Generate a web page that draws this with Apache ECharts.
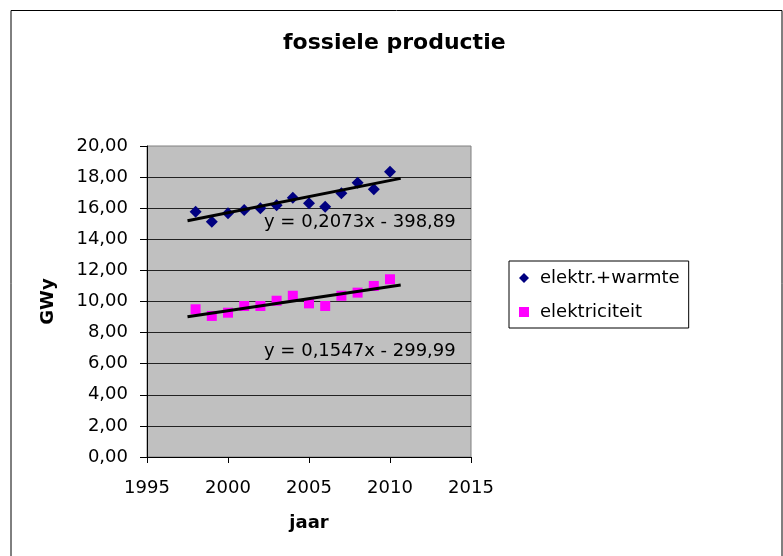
<!DOCTYPE html>
<html><head><meta charset="utf-8">
<script src="https://cdn.jsdelivr.net/npm/echarts@6/dist/echarts.min.js"></script>
<style>html,body{margin:0;padding:0;background:#fff}#c{width:783px;height:556px}</style>
</head><body><div id="c"></div>
<script>
// ---- data ----
const years = [1998, 1999, 2000, 2001, 2002, 2003, 2004, 2005, 2006, 2007, 2008, 2009, 2010];
const elektrWarmte = [15.77, 15.13, 15.67, 15.88, 15.99, 16.19, 16.68, 16.32, 16.10, 16.96, 17.64, 17.22, 18.35];
const elektriciteit = [9.50, 9.07, 9.28, 9.71, 9.71, 10.05, 10.37, 9.88, 9.71, 10.37, 10.57, 11.00, 11.43];
const seriesNames = ['elektr.+warmte', 'elektriciteit'];
// trendline coefficients (y = a*x + b) as printed in the chart
const trendSlope = [0.2073, 0.1547];
const trendIntercept = [-398.89, -299.99];
const trendRange = [1997.5, 2010.66];
const trendLabels = ['y = 0,2073x - 398,89', 'y = 0,1547x - 299,99'];
const xTicks = [1995, 2000, 2005, 2010, 2015];
const yTicks = [0, 2, 4, 6, 8, 10, 12, 14, 16, 18, 20];

const FONT = 'DejaVu Sans';
function trend(i) {
  return trendRange.map(x => [x, trendSlope[i] * x + trendIntercept[i]]);
}
const chart = echarts.init(document.getElementById('c'), null, {renderer: 'canvas'});
chart.setOption({
  animation: false,
  backgroundColor: '#fff',
  textStyle: {fontFamily: FONT, color: '#000'},
  title: {
    text: 'fossiele productie', left: 283, top: 32, padding: 0,
    textStyle: {fontFamily: FONT, fontSize: 22, fontWeight: 'bold', color: '#000'}
  },
  grid: {
    left: 147, top: 146, right: 312, bottom: 99, show: true,
    backgroundColor: '#C0C0C0', borderColor: '#808080', borderWidth: 1
  },
  xAxis: {
    type: 'value', min: xTicks[0], max: xTicks[xTicks.length - 1], interval: 5,
    name: 'jaar', nameLocation: 'middle', nameGap: 57,
    nameTextStyle: {fontFamily: FONT, fontSize: 18, fontWeight: 'bold', color: '#000'},
    axisLine: {show: true, onZero: false, lineStyle: {color: '#000', width: 1}},
    axisTick: {show: true, length: 6, lineStyle: {color: '#000'}},
    axisLabel: {fontFamily: FONT, fontSize: 18, color: '#000', margin: 22,
      formatter: v => String(v)},
    splitLine: {show: false}
  },
  yAxis: {
    type: 'value', min: yTicks[0], max: yTicks[yTicks.length - 1], interval: 2,
    name: 'GWy', nameLocation: 'middle', nameGap: 90, nameRotate: 90,
    nameTextStyle: {fontFamily: FONT, fontSize: 18, fontWeight: 'bold', color: '#000'},
    axisLine: {show: true, lineStyle: {color: '#000', width: 1}},
    axisTick: {show: true, length: 7, lineStyle: {color: '#000'}},
    axisLabel: {fontFamily: FONT, fontSize: 18, color: '#000', margin: 19,
      formatter: v => v.toFixed(2).replace('.', ',')},
    splitLine: {show: true, showMaxLine: false, lineStyle: {color: '#222', width: 1}}
  },
  legend: {
    orient: 'vertical', left: 509, top: 261,
    data: [{name: seriesNames[0], icon: 'diamond'}, {name: seriesNames[1], icon: 'rect'}],
    itemWidth: 10, itemHeight: 10, itemGap: 16,
    padding: [8, 9, 7, 10],
    borderColor: '#000', borderWidth: 1, backgroundColor: '#fff',
    textStyle: {fontFamily: FONT, fontSize: 18, color: '#000', padding: [0, 0, 0, 6]}
  },
  graphic: [
    {type: 'rect', shape: {x: 11, y: 10.5, width: 771, height: 600}, style: {fill: 'none', stroke: '#000', lineWidth: 1}, z: 100, silent: true},
    {type: 'text', left: 264, top: 213, style: {text: trendLabels[0], font: '18px "DejaVu Sans"', fill: '#000'}, z: 100},
    {type: 'text', left: 264, top: 342, style: {text: trendLabels[1], font: '18px "DejaVu Sans"', fill: '#000'}, z: 100}
  ],
  series: [
    {name: seriesNames[0], type: 'scatter', symbol: 'diamond', symbolSize: [12, 12],
      itemStyle: {color: '#000080', opacity: 1}, data: years.map((y, i) => [y, elektrWarmte[i]]), z: 2},
    {name: seriesNames[1], type: 'scatter', symbol: 'rect', symbolSize: [10, 10],
      itemStyle: {color: '#FF00FF', opacity: 1}, data: years.map((y, i) => [y, elektriciteit[i]]), z: 2},
    {name: 'trend1', type: 'line', data: trend(0), symbol: 'none', silent: true,
      lineStyle: {color: '#000', width: 3}, z: 3},
    {name: 'trend2', type: 'line', data: trend(1), symbol: 'none', silent: true,
      lineStyle: {color: '#000', width: 3}, z: 3}
  ]
});
</script></body></html>
